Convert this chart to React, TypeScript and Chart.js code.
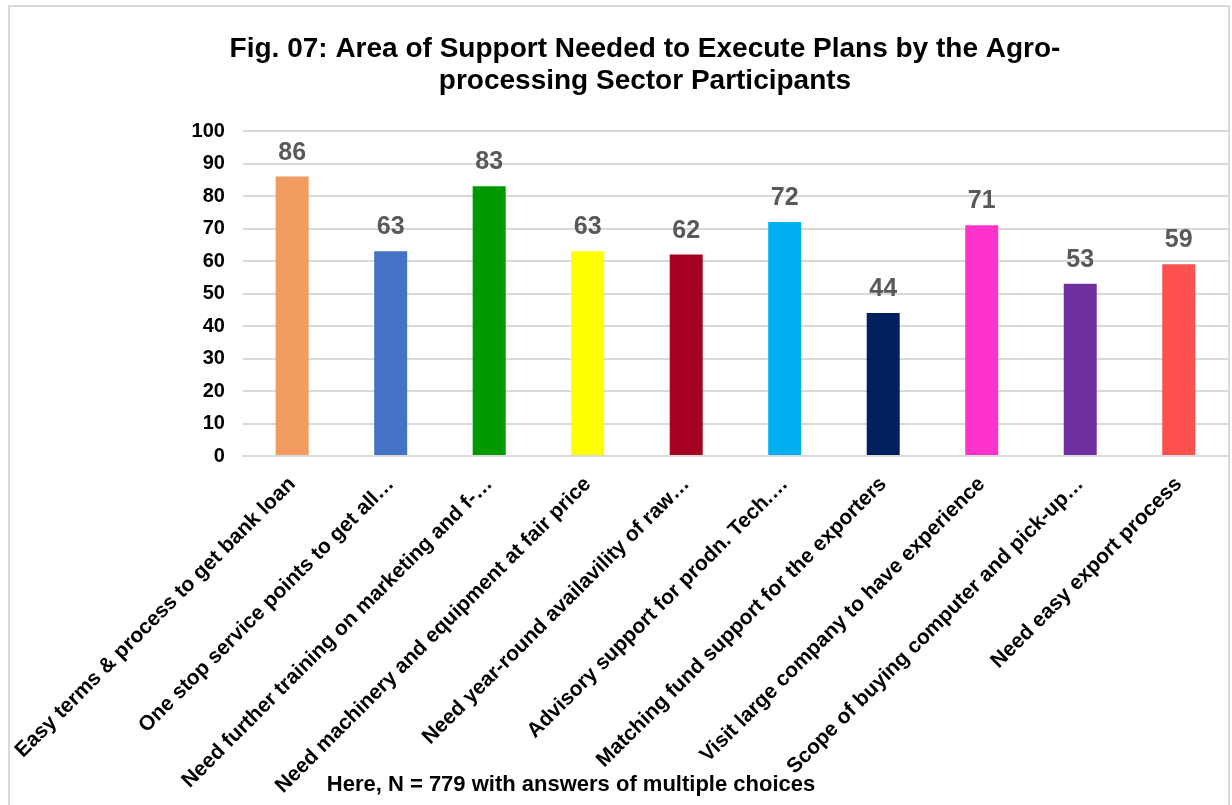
import React, { useEffect, useRef } from "react";
import { Chart, registerables } from "chart.js";

Chart.register(...registerables);

const categories = [
  "Easy terms & process to get bank loan",
  "One stop service points to get all…",
  "Need further training on marketing and f-…",
  "Need machinery and equipment at fair price",
  "Need year-round availavility of raw…",
  "Advisory support for prodn. Tech.…",
  "Matching fund support for the exporters",
  "Visit large company to have experience",
  "Scope of buying computer and pick-up…",
  "Need easy export process",
];
const values = [86, 63, 83, 63, 62, 72, 44, 71, 53, 59];
const barColors = [
  "#F29B60",
  "#4472C4",
  "#009900",
  "#FFFF00",
  "#A50021",
  "#00B0F0",
  "#002060",
  "#FF33CC",
  "#7030A0",
  "#FF5050",
];
const yMin = 0;
const yMax = 100;
const yStep = 10;
const titleLines = [
  "Fig. 07: Area of Support Needed to Execute Plans by the Agro-",
  "processing Sector Participants",
];
const footnote = "Here, N = 779 with answers of multiple choices";

const FONT = "'Liberation Sans', Arial, Helvetica, sans-serif";

const textPlugin = {
  id: "texts",
  afterDatasetsDraw(chart: any) {
    const ctx = chart.ctx;
    const meta = chart.getDatasetMeta(0);
    ctx.save();
    ctx.font = `bold 25px ${FONT}`;
    ctx.fillStyle = "#595959";
    ctx.textAlign = "center";
    ctx.textBaseline = "alphabetic";
    meta.data.forEach((el: any, i: number) => {
      ctx.fillText(String(values[i]), el.x, el.y - 17);
    });
    ctx.restore();
  },
  afterDraw(chart: any) {
    const ctx = chart.ctx;
    ctx.save();
    ctx.fillStyle = "#000000";
    ctx.textAlign = "center";
    ctx.textBaseline = "alphabetic";
    ctx.font = `bold 28px ${FONT}`;
    titleLines.forEach((line, i) => {
      ctx.fillText(line, 635, 50 + i * 32);
    });
    ctx.font = `bold 22px ${FONT}`;
    ctx.fillText(footnote, 561, 784);
    ctx.restore();
  },
};

export default function App() {
  const ref = useRef<HTMLCanvasElement | null>(null);
  useEffect(() => {
    if (!ref.current) return;
    const chart = new Chart(ref.current, {
      type: "bar",
      data: {
        labels: categories,
        datasets: [
          {
            data: values,
            backgroundColor: barColors,
            borderWidth: 0,
            barPercentage: 0.335,
            categoryPercentage: 1,
          },
        ],
      },
      options: {
        animation: false,
        responsive: false,
        maintainAspectRatio: false,
        layout: { padding: { top: 124, right: 0, bottom: 0, left: 0 } },
        plugins: {
          legend: { display: false },
          title: { display: false },
          tooltip: { enabled: false },
        },
        scales: {
          x: {
            afterFit: (s: any) => {
              s.paddingLeft = Math.max(0, s.paddingLeft - 11);
              s.height = 349;
            },
            grid: { display: false, drawTicks: false },
            border: { display: true, color: "#d9d9d9", width: 2 },
            ticks: {
              autoSkip: false,
              maxRotation: 45,
              minRotation: 45,
              color: "#000000",
              padding: 16,
              font: { family: FONT, size: 21, weight: "bold" },
            },
          },
          y: {
            min: yMin,
            max: yMax,
            grid: { color: "#d9d9d9", lineWidth: 2, drawTicks: false },
            border: { display: false },
            ticks: {
              stepSize: yStep,
              color: "#000000",
              padding: 18,
              font: { family: FONT, size: 20, weight: "bold" },
            },
          },
        },
      },
      plugins: [textPlugin],
    });
    return () => chart.destroy();
  }, []);
  return (
    <div
      style={{
        position: "absolute",
        left: 8,
        top: 5,
        width: 1222,
        height: 800,
        boxSizing: "border-box",
        border: "2px solid #d9d9d9",
        borderBottom: "none",
        background: "#ffffff",
      }}
    >
      <canvas ref={ref} width={1218} height={798} style={{ display: "block" }} />
    </div>
  );
}
